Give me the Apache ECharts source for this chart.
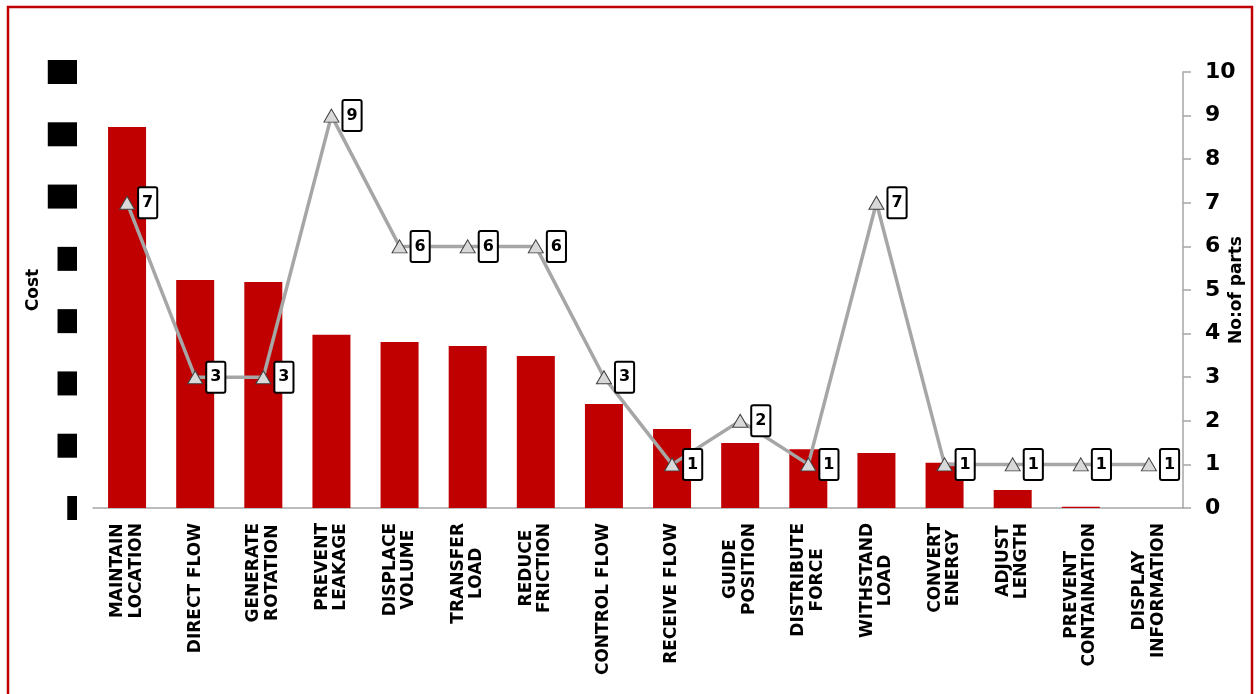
<!DOCTYPE html>
<html>
<head>
<meta charset="utf-8">
<script src="https://cdn.jsdelivr.net/npm/echarts@6/dist/echarts.min.js"></script>
<style>
html,body{margin:0;padding:0;background:#fff;}
#chart{width:1258px;height:694px;}
</style>
</head>
<body>
<div id="chart"></div>
<script>
var categories = [
  'MAINTAIN\nLOCATION','DIRECT FLOW','GENERATE\nROTATION','PREVENT\nLEAKAGE',
  'DISPLACE\nVOLUME','TRANSFER\nLOAD','REDUCE\nFRICTION','CONTROL FLOW',
  'RECEIVE FLOW','GUIDE\nPOSITION','DISTRIBUTE\nFORCE','WITHSTAND\nLOAD',
  'CONVERT\nENERGY','ADJUST\nLENGTH','PREVENT\nCONTAINATION','DISPLAY\nINFORMATION'
];
var costValues = [122.3, 73.2, 72.6, 55.6, 53.3, 52.0, 48.8, 33.4, 25.4, 20.9, 18.9, 17.7, 14.5, 5.8, 0.4, 0];
var partsValues = [7, 3, 3, 9, 6, 6, 6, 3, 1, 2, 1, 7, 1, 1, 1, 1];

var chart = echarts.init(document.getElementById('chart'));
var FONT = 'DejaVu Sans';
chart.setOption({
  animation: false,
  textStyle: {fontFamily: FONT},
  graphic: [{
    type: 'rect', silent: true,
    shape: {x: 8, y: 7, width: 1244, height: 690},
    style: {fill: 'none', stroke: '#c00000', lineWidth: 2.5}
  }],
  grid: {left: 93, right: 75, top: 72, bottom: 186, outerBoundsMode: 'none', containLabel: false},
  xAxis: {
    type: 'category',
    data: categories,
    axisLine: {lineStyle: {color: '#a6a6a6', width: 1.5}},
    axisTick: {show: false},
    axisLabel: {
      interval: 0,
      rotate: 90,
      margin: 15,
      formatter: function (v) {
        return v.split('\n').map(function (s) { return '{a|' + s + '}'; }).join('\n');
      },
      rich: {
        a: {fontFamily: FONT, fontWeight: 'bold', fontSize: 17, color: '#000', lineHeight: 18.5, align: 'center'}
      }
    }
  },
  yAxis: [{
    type: 'value',
    min: 0, max: 140, interval: 20,
    name: 'Cost',
    nameLocation: 'middle',
    nameGap: 51,
    nameMoveOverlap: false,
    nameRotate: 90,
    nameTextStyle: {fontFamily: FONT, fontWeight: 'bold', fontSize: 17, color: '#000'},
    axisLine: {show: false},
    axisTick: {show: false},
    splitLine: {show: false},
    axisLabel: {
      margin: 16,
      color: '#000',
      backgroundColor: '#000',
      fontFamily: FONT,
      fontWeight: 'bold',
      fontSize: 14,
      lineHeight: 24
    }
  }, {
    type: 'value',
    position: 'right',
    min: 0, max: 10, interval: 1,
    name: 'No:of parts',
    nameLocation: 'middle',
    nameGap: 45,
    nameMoveOverlap: false,
    nameRotate: 90,
    nameTextStyle: {fontFamily: FONT, fontWeight: 'bold', fontSize: 17, color: '#000'},
    axisLine: {show: true, lineStyle: {color: '#a6a6a6', width: 1.5}},
    axisTick: {show: true, length: 8, lineStyle: {color: '#a6a6a6', width: 1.5}},
    splitLine: {show: false},
    axisLabel: {margin: 22, color: '#000', fontFamily: FONT, fontWeight: 'bold', fontSize: 22}
  }],
  series: [{
    type: 'bar',
    data: costValues,
    yAxisIndex: 0,
    barWidth: 38,
    itemStyle: {color: '#c00000'}
  }, {
    type: 'line',
    data: partsValues,
    yAxisIndex: 1,
    symbol: 'triangle',
    symbolSize: [15, 13],
    lineStyle: {color: '#a6a6a6', width: 3.5},
    itemStyle: {color: '#d9d9d9', borderColor: '#404040', borderWidth: 1},
    label: {
      show: true,
      position: 'right',
      distance: 4,
      color: '#000',
      fontFamily: FONT,
      fontWeight: 'bold',
      fontSize: 16,
      backgroundColor: '#fff',
      borderColor: '#000',
      borderWidth: 2,
      borderRadius: 1,
      padding: [7, 3, 6, 3]
    }
  }]
});
</script>
</body>
</html>
